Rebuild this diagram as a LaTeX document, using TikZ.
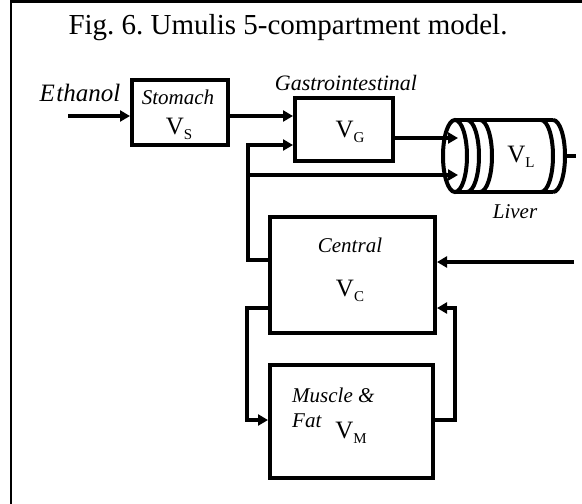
\documentclass[tikz,border=0pt]{standalone}
\usepackage{fontspec}
\setmainfont{Liberation Serif}
\usetikzlibrary{arrows.meta}
\frenchspacing
\newcommand{\vvol}[1]{V\raisebox{-0.22em}{\fontsize{15}{15}\selectfont #1}}
\begin{document}
\frenchspacing
\begin{tikzpicture}[x=1pt,y=-1pt,
  conn/.style={line width=4.2pt},
  arr/.style={conn,-{Triangle[length=10pt,width=11pt]}},
  box/.style={draw,line width=4.2pt,inner sep=0pt},
  lab/.style={font=\fontsize{21}{23}\selectfont\itshape,inner sep=0pt},
  vol/.style={font=\fontsize{25}{27}\selectfont,inner sep=0pt},
  cyl/.style={line width=4pt}]
\useasboundingbox (0,0) rectangle (582,504);
% frame
\draw[line width=2.5pt] (11,504) -- (11,1.25) -- (582,1.25);
\node[font=\fontsize{29}{32}\selectfont,anchor=base,inner sep=0pt] (title) at (288,34) {Fig. 6. Umulis 5-compartment model.};
% boxes
\node[box,minimum width=95.8pt,minimum height=64.8pt] (st) at (180,112.5) {};
\node[box,minimum width=97.8pt,minimum height=62.8pt] (gi) at (344,129.5) {};
\node[box,minimum width=164.8pt,minimum height=115.8pt] (ce) at (352.5,275) {};
\node[box,minimum width=162.8pt,minimum height=112.8pt] (mu) at (351.5,421.5) {};
% texts
\node[lab,font=\fontsize{25}{27}\selectfont\itshape] (eth) at (80,93) {E\kern1.5pt thanol};
\node[lab] (stl) at (178,97) {Stomach};
\node[vol] (stv) at (179,129) {\vvol{S}};
\node[lab,font=\fontsize{22}{24}\selectfont\itshape] (gil) at (346,83) {Gastrointestinal};
\node[vol] (giv) at (350,132) {\vvol{G}};
\node[lab] (cel) at (350,245) {Central};
\node[vol] (cev) at (350,291) {\vvol{C}};
\node[lab,anchor=base west] (mul) at (292,402) {Muscle \&};
\node[lab,anchor=base west] (fat) at (292,427) {Fat};
\node[vol] (muv) at (351,433) {\vvol{M}};
\node[lab] (lil) at (515,212) {Liver};
\node[vol] (liv) at (521,157) {\vvol{L}};
% liver cylinder
\draw[cyl] (455,120) -- (553,120);
\draw[cyl] (455,192) -- (553,192);
\draw[cyl] (455,156) ellipse [x radius=12,y radius=36];
\draw[cyl] (467,120) arc[start angle=-90,end angle=90,x radius=12,y radius=36];
\draw[cyl] (480,120) arc[start angle=-90,end angle=90,x radius=12,y radius=36];
\draw[cyl] (541,120) arc[start angle=-90,end angle=90,x radius=12,y radius=36];
\draw[cyl] (553,120) arc[start angle=-90,end angle=90,x radius=12,y radius=36];
% coordinates
\coordinate (ethin) at (68,116);
\coordinate (liv1) at (458,138);
\coordinate (liv2) at (458,175);
\coordinate (j1) at (248,175);
\coordinate (cin) at (574,262);
\coordinate (lstub) at (565,156);
\coordinate (lout) at (576,156);
% connectors
\draw[arr] (ethin) -- (st.west |- ethin);
\draw[arr] (st.east |- 0,116) -- (gi.west |- 0,116);
\draw[arr] (gi.east |- liv1) -- (liv1);
\draw[arr] (ce.west |- 0,260) -| (248,145) -- (gi.west |- 0,145);
\draw[arr] (j1) -- (liv2);
\draw[conn] (lstub) -- (lout);
\draw[arr] (cin) -- (ce.east |- cin);
\draw[arr] (ce.west |- 0,308) -| (247,420) -- (mu.west |- 0,420);
\draw[arr] (mu.east |- 0,420) -| (455,308) -- (ce.east |- 0,308);
\end{tikzpicture}
\end{document}
